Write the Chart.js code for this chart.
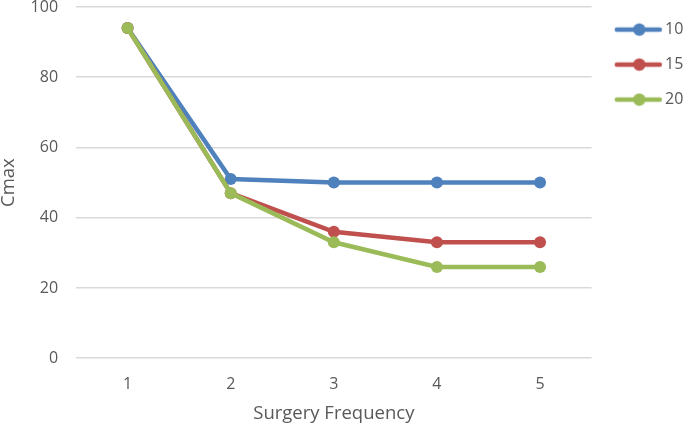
<!DOCTYPE html>
<html><head><meta charset="utf-8">
<script src="https://cdn.jsdelivr.net/npm/chart.js@4/dist/chart.umd.min.js"></script>
<style>html,body{margin:0;padding:0;background:#fff}#wrap{width:685px;height:427px}</style>
</head><body><div id="wrap"><canvas id="c" width="685" height="427"></canvas></div>
<script>
const categories = ['1','2','3','4','5'];
const seriesNames = ['10','15','20'];
const s10 = [94, 51, 50, 50, 50];
const s15 = [94, 47, 36, 33, 33];
const s20 = [94, 47, 33, 26, 26];
const colors = ['#4F81BD','#C0504D','#9BBB59'];

function legendIcon(color){
  const cv = document.createElement('canvas');
  cv.width = 60; cv.height = 16;
  const g = cv.getContext('2d');
  g.strokeStyle = color; g.lineWidth = 4.5; g.lineCap = 'round';
  g.beginPath(); g.moveTo(13,8); g.lineTo(56,8); g.stroke();
  g.fillStyle = color; g.beginPath(); g.arc(35.5,8,6.2,0,Math.PI*2); g.fill();
  return cv;
}
const values = [s10, s15, s20];
const datasets = seriesNames.map((n,i)=>({
  label:n, data:values[i], borderColor:colors[i], backgroundColor:colors[i],
  borderWidth:4.5, pointRadius:6, pointHoverRadius:6, pointBackgroundColor:colors[i],
  pointBorderWidth:0, tension:0, order: seriesNames.length - i, _icon: legendIcon(colors[i])
}));

const font = "'Open Sans', 'Liberation Sans', sans-serif";
new Chart(document.getElementById('c'), {
  type:'line',
  data:{labels:categories, datasets},
  options:{
    responsive:false, animation:false,
    layout:{padding:{left:-2, top:7, right:-8.3, bottom:1}},
    plugins:{
      tooltip:{enabled:false},
      legend:{position:'right', align:'start',
        title:{display:true, text:'', font:{size:1, lineHeight:1}, padding:{top:0, bottom:-5.4}},
        labels:{usePointStyle:true, pointStyleWidth:46.4, color:'#595959', font:{family:font, size:16}, padding:19,
          generateLabels(chart){
            return chart.data.datasets.map((d,i)=>({text:d.label, fillStyle:d.borderColor, strokeStyle:d.borderColor,
              pointStyle:d._icon, lineWidth:0, hidden:false, datasetIndex:i, fontColor:'#595959'}));
          }}
      }
    },
    scales:{
      x:{offset:true, grid:{display:false, drawTicks:false}, border:{display:false},
        ticks:{color:'#595959', font:{family:font, size:16}, padding:16.4},
        title:{display:true, text:'Surgery Frequency', color:'#595959', font:{family:font, size:18.5}, padding:{top:-7.8, bottom:1.4}}},
      y:{min:0, max:100, grid:{color:'#d9d9d9', lineWidth:1.5, drawTicks:true, tickLength:18, tickColor:'rgba(0,0,0,0)'}, border:{display:false},
        ticks:{stepSize:20, color:'#595959', font:{family:font, size:16, lineHeight:0.6}, padding:0},
        title:{display:true, text:'Cmax', color:'#595959', font:{family:font, size:18.5}, padding:{top:0, bottom:10.4}}}
    }
  }
});
</script></body></html>
